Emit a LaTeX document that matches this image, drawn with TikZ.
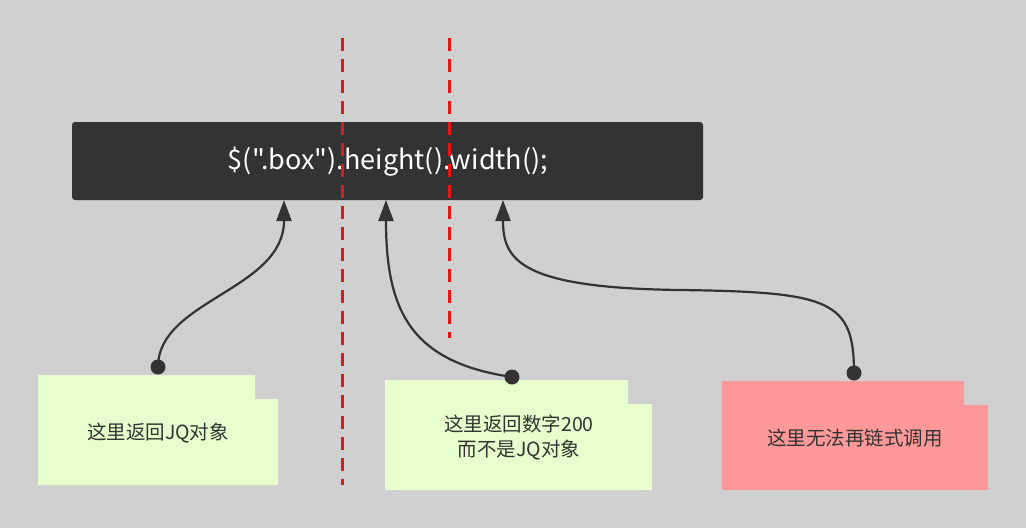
\documentclass[tikz,border=0pt]{standalone}
\usepackage{fontspec}
\setmainfont{Noto Sans CJK SC}
\newfontfamily\codefont{Noto Sans CJK SC}[Ligatures=TeXOff]
\usetikzlibrary{arrows.meta}
\definecolor{bg}{RGB}{208,208,208}
\definecolor{dark}{RGB}{51,51,51}
\definecolor{note}{RGB}{230,255,204}
\definecolor{warn}{RGB}{255,153,153}
\definecolor{redline}{RGB}{235,20,20}
\tikzset{
  notebox/.style={fill=note, draw=none},
  notetext/.style={text=dark, font=\fontsize{19.5}{25}\selectfont, align=center},
  conn/.style={draw=dark, line width=2.2pt, -{Triangle[length=21pt,width=15pt]}},
  dot/.style={fill=dark, draw=none},
  guide/.style={draw=redline, line width=3pt, dash pattern=on 13pt off 8pt},
}
\begin{document}
\begin{tikzpicture}[x=1pt,y=-1pt]
\useasboundingbox (0,0) rectangle (1026,528);
\fill[bg] (0,0) rectangle (1026,528);
% code box
\fill[dark, rounded corners=3pt] (72,122) rectangle (703,200);
\node[text=white, font=\codefont\fontsize{27}{32}\selectfont] (code) at (388,162) {\$(".box").height().width();};
% guide lines
\coordinate (g1a) at (342,38); \coordinate (g1b) at (342,485);
\coordinate (g2a) at (449,38); \coordinate (g2b) at (449,338);
\draw[guide] (g1a) -- (g1b);
\draw[guide] (g2a) -- (g2b);
% note boxes
\fill[notebox] (38,375) -- (255,375) -- (255,399) -- (278,399) -- (278,485) -- (38,485) -- cycle;
\node[notetext] (n1) at (158,433) {这里返回JQ对象};
\fill[notebox] (385,380) -- (628,380) -- (628,404) -- (652,404) -- (652,490) -- (385,490) -- cycle;
\node[notetext] (n2) at (519,438) {这里返回数字200\\而不是JQ对象};
\fill[warn] (722,381) -- (964,381) -- (964,405) -- (988,405) -- (988,490) -- (722,490) -- cycle;
\node[notetext] (n3) at (855,438) {这里无法再链式调用};
% connectors
\coordinate (d1) at (158,367); \coordinate (t1) at (284,200);
\coordinate (d2) at (512,377); \coordinate (t2) at (386,200);
\coordinate (d3) at (854,373); \coordinate (t3) at (503,200);
\draw[conn] (d1) .. controls (158,300) and (284,290) .. (t1);
\draw[conn] (d2) .. controls (410,362) and (386,310) .. (t2);
\draw[conn] (d3) .. controls (854,300) and (830,292) .. (680,290) .. controls (520,288) and (503,260) .. (t3);
\fill[dot] (d1) circle (7.5);
\fill[dot] (d2) circle (7.5);
\fill[dot] (d3) circle (7.5);
\end{tikzpicture}
\end{document}
